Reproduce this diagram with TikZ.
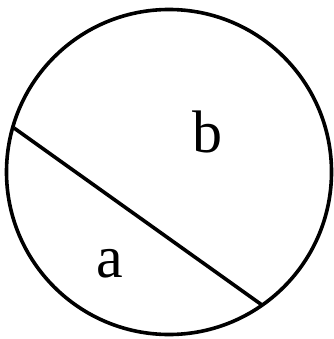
\documentclass[tikz,border=0pt]{standalone}
\usepackage{fontspec}
\setmainfont{Liberation Serif}
\begin{document}
\begin{tikzpicture}[x=1pt,y=-1pt,
  outline/.style={line width=3.6pt},
  lbl/.style={inner sep=0pt,font=\fontsize{60}{60}\selectfont}]
\useasboundingbox (0,0) rectangle (333,339);
\coordinate (c) at (169,172);
\draw[outline] (c) circle[radius=162.5];
\coordinate (p) at (14,128);
\coordinate (q) at (262,305);
\draw[outline] (p) -- (q);
\node[lbl,anchor=base] (b) at (207,152) {b};
\node[lbl,anchor=base] (a) at (110,277) {a};
\end{tikzpicture}
\end{document}
